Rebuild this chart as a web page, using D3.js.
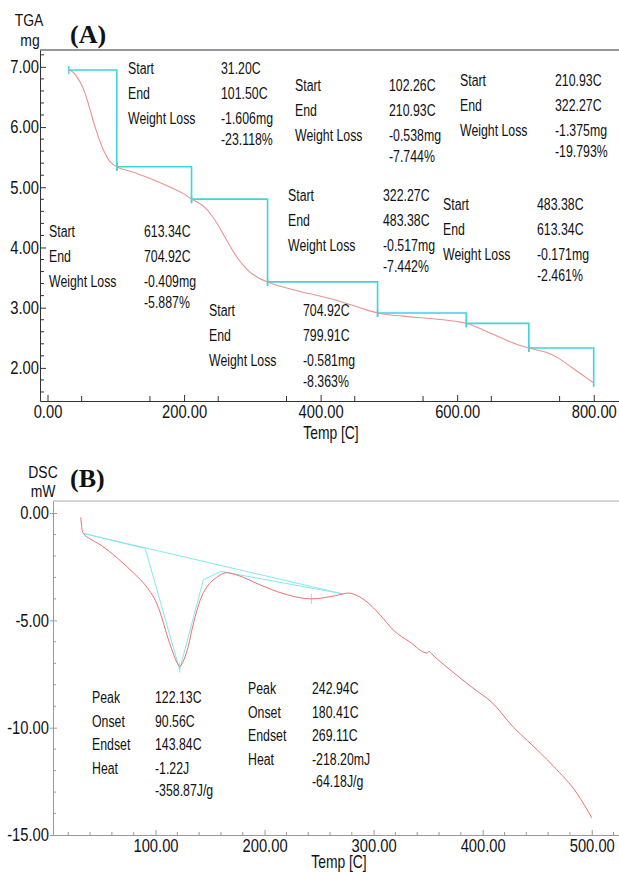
<!DOCTYPE html>
<html>
<head>
<meta charset="utf-8">
<script src="https://cdn.jsdelivr.net/npm/d3@7"></script>
<style>
  body { margin: 0; background: #fff; }
  text { fill: #111; }
</style>
</head>
<body>
<div id="chart"></div>
<script>
// ---- TGA data (panel A) ----
const tgaTemp = [31.2, 35, 40, 45, 50, 55, 60, 65, 70, 75, 80, 85, 90, 95, 101.5, 110, 120, 140, 160, 180, 200,
  210.93, 220, 230, 240, 250, 260, 270, 280, 290, 300, 310, 322.27, 340, 370, 400, 430, 460, 483.38,
  520, 560, 600, 613.34, 630, 650, 670, 690, 704.92, 720, 735, 750, 765, 780, 790, 799.91];
const tgaMass = [6.947, 6.93, 6.88, 6.80, 6.70, 6.56, 6.38, 6.18, 5.99, 5.82, 5.67, 5.55, 5.45, 5.39, 5.341, 5.30, 5.27, 5.19, 5.10, 5.00, 4.89,
  4.803, 4.75, 4.67, 4.54, 4.37, 4.17, 3.97, 3.80, 3.66, 3.56, 3.49, 3.428, 3.36, 3.27, 3.19, 3.10, 2.99, 2.911,
  2.86, 2.82, 2.77, 2.740, 2.67, 2.57, 2.47, 2.38, 2.331, 2.29, 2.24, 2.15, 2.03, 1.91, 1.83, 1.750];

const initialMass = 6.947;
const stepStart = [31.20, 102.26, 210.93, 322.27, 483.38, 613.34, 704.92];
const stepEnd = [101.50, 210.93, 322.27, 483.38, 613.34, 704.92, 799.91];
const stepLossMg = [-1.606, -0.538, -1.375, -0.517, -0.171, -0.409, -0.581];
const stepLossPct = [-23.118, -7.744, -19.793, -7.442, -2.461, -5.887, -8.363];

const tgaXTicks = [0, 200, 400, 600, 800];
const tgaYTicks = [2, 3, 4, 5, 6, 7];

// ---- DSC data (panel B) ----
const dscTemp = [31.5, 32.2, 33.8, 40, 50, 65, 80, 92, 101, 106, 110, 116, 120, 122.13, 125, 129, 135, 141, 147, 156, 165,
  177, 196, 217, 243, 265, 277, 285, 294, 306, 318, 333, 349, 351, 353, 370, 391, 409, 428, 441, 465, 487, 500];
const dscHeat = [-0.2, -0.6, -0.95, -1.2, -1.5, -2.1, -2.8, -3.45, -4.2, -4.9, -5.6, -6.5, -7.0, -7.15, -6.95, -6.4, -5.1, -4.05, -3.45, -3.0, -2.78,
  -2.93, -3.35, -3.75, -4.0, -3.85, -3.73, -3.85, -4.15, -4.75, -5.45, -6.0, -6.52, -6.45, -6.55, -7.3, -8.15, -8.85, -9.97, -10.6, -11.8, -13.1, -14.2];

const baseLongT = [33.8, 272], baseLongV = [-0.95, -3.77];
const peak1T = [33.8, 90.56, 122.13, 143.84, 160], peak1V = [-0.95, -1.65, -7.3, -3.12, -2.72];
const base2T = [160, 272], base2V = [-2.72, -3.77];
const peakMarkT = [122.13, 242.94], peakMarkV = [-7.2, -4.0];

const peakNames = ["Peak", "Onset", "Endset", "Heat", ""];
const peakVals = [
  ["122.13C", "90.56C", "143.84C", "-1.22J", "-358.87J/g"],
  ["242.94C", "180.41C", "269.11C", "-218.20mJ", "-64.18J/g"]
];
const dscXTicks = [100, 200, 300, 400, 500];
const dscYTicks = [0, -5, -10, -15];

// text blocks layout (label x, value x, first line y)
const tgaBlockPos = [[128, 221, 74], [295, 389, 91], [460, 555, 86], [288, 383, 201], [443, 537, 210], [49, 144, 237], [209, 303, 316]];
const dscBlockPos = [[92, 155, 703], [248, 312, 694]];

const W = 619, H = 872;
const SX = 0.82;  // narrow look of the original font (tick labels)
const SXT = 0.77; // annotation text
const SANS = '"Liberation Sans", Arial, sans-serif';
const SERIF = '"Liberation Serif", "Times New Roman", serif';
const redA = "#e99393", redB = "#ef7070", cyan = "#40d4dc", cyanB = "#84e8ef";
const fmt = d => d.toFixed(2);

const svg = d3.select("#chart").append("svg").attr("width", W).attr("height", H);

function txt(g, x, y, s, size, anchor, sx) {
  return g.append("text")
    .attr("transform", `translate(${x},${y}) scale(${sx || SXT},1)`)
    .style("font-family", SANS)
    .attr("font-size", size)
    .attr("text-anchor", anchor || "start")
    .text(s);
}

function styleAxis(g, color, size) {
  g.select(".domain").attr("stroke", color);
  g.selectAll(".tick line").attr("stroke", color);
  g.selectAll(".tick text").attr("font-size", size).attr("fill", "#111")
    .style("font-family", SANS)
    .attr("transform", `scale(${SX},1)`)
    .attr("x", function() { return +d3.select(this).attr("x") / SX; });
}

// ================= Panel A =================
const xA = d3.scaleLinear().domain([-11, 837]).range([40, 619]);
const yA = d3.scaleLinear().domain([1.45, 7.28]).range([401, 50]);
const gA = svg.append("g");

gA.append("line").attr("x1", 40).attr("x2", 619).attr("y1", yA(7.28)).attr("y2", yA(7.28)).attr("stroke", "#333");

const axXA = gA.append("g").attr("transform", `translate(0,${yA(1.45)})`)
  .call(d3.axisBottom(xA).tickValues(tgaXTicks).tickSizeInner(-6).tickSizeOuter(0).tickPadding(4).tickFormat(fmt));
styleAxis(axXA, "#333", 18);
gA.append("g").selectAll("line").data(d3.range(50, 800, 100)).join("line")
  .attr("x1", d => xA(d)).attr("x2", d => xA(d)).attr("y1", yA(1.45)).attr("y2", yA(1.45) - 5).attr("stroke", "#333");

const axYA = gA.append("g").attr("transform", `translate(${xA(-11)},0)`)
  .call(d3.axisLeft(yA).tickValues(tgaYTicks).tickSizeInner(-6).tickSizeOuter(0).tickPadding(1).tickFormat(fmt));
styleAxis(axYA, "#333", 18);
gA.append("g").selectAll("line").data(d3.range(16, 73, 2).filter(d => d % 10 !== 0).map(d => d / 10)).join("line")
  .attr("x1", xA(-11)).attr("x2", xA(-11) + 4).attr("y1", d => yA(d)).attr("y2", d => yA(d)).attr("stroke", "#333");

// step lines
let w = initialMass;
stepStart.forEach((s, i) => {
  const w2 = w + stepLossMg[i];
  const y0 = yA(w), y1 = yA(w2);
  gA.append("path")
    .attr("d", `M${xA(s)},${y0}H${xA(stepEnd[i])}V${y1 + 4}`)
    .attr("fill", "none").attr("stroke", cyan).attr("stroke-width", 1.6);
  gA.append("line").attr("x1", xA(s)).attr("x2", xA(s)).attr("y1", y0 - 4).attr("y2", y0 + 4)
    .attr("stroke", cyan).attr("stroke-width", 1.4);
  w = w2;
});

const lineA = d3.line().x((d, i) => xA(tgaTemp[i])).y(d => yA(d)).curve(d3.curveMonotoneX);
gA.append("path").attr("d", lineA(tgaMass)).attr("fill", "none").attr("stroke", redA).attr("stroke-width", 1.1);

// annotations
tgaBlockPos.forEach((p, i) => {
  const [lx, vx, y] = p;
  txt(gA, lx, y, "Start", 16);
  txt(gA, lx, y + 24.5, "End", 16);
  txt(gA, lx, y + 49.5, "Weight Loss", 16);
  txt(gA, vx, y, stepStart[i].toFixed(2) + "C", 16);
  txt(gA, vx, y + 24.5, stepEnd[i].toFixed(2) + "C", 16);
  txt(gA, vx, y + 49.5, stepLossMg[i].toFixed(3) + "mg", 16);
  txt(gA, vx, y + 70.5, stepLossPct[i].toFixed(3) + "%", 16);
});

txt(gA, 29, 26, "TGA", 17, "middle", SX);
txt(gA, 30, 46, "mg", 17, "middle", SX);
txt(gA, 331, 439, "Temp  [C]", 18, "middle");
gA.append("text").attr("x", 70).attr("y", 43).attr("font-size", 26).attr("font-weight", "bold")
  .style("font-family", SERIF).text("(A)");

// ================= Panel B =================
const xB = d3.scaleLinear().domain([6, 525]).range([53, 619]);
const yB = d3.scaleLinear().domain([-15, 0.56]).range([835, 501]);
const gB = svg.append("g");

gB.append("line").attr("x1", xB(6)).attr("x2", 619).attr("y1", yB(0.56)).attr("y2", yB(0.56)).attr("stroke", "#aaa");

const axXB = gB.append("g").attr("transform", `translate(0,${yB(-15)})`)
  .call(d3.axisBottom(xB).tickValues(dscXTicks).tickSizeInner(-5).tickSizeOuter(0).tickPadding(4).tickFormat(fmt));
styleAxis(axXB, "#999", 18);
gB.append("g").selectAll("line").data(d3.range(20, 525, 20).filter(d => d % 100 !== 0)).join("line")
  .attr("x1", d => xB(d)).attr("x2", d => xB(d)).attr("y1", yB(-15)).attr("y2", yB(-15) - 3).attr("stroke", "#999");

const axYB = gB.append("g").attr("transform", `translate(${xB(6)},0)`)
  .call(d3.axisLeft(yB).tickValues(dscYTicks).tickSizeInner(3).tickSizeOuter(0).tickPadding(1).tickFormat(fmt));
styleAxis(axYB, "#999", 18);
axYB.selectAll(".tick line").attr("x2", 4).attr("x1", -3);
gB.append("g").selectAll("line").data(d3.range(-14, 0).filter(d => d % 5 !== 0)).join("line")
  .attr("x1", xB(6)).attr("x2", xB(6) + 3).attr("y1", d => yB(d)).attr("y2", d => yB(d)).attr("stroke", "#999");

const cyLine = (T, V) => d3.line().x((d, i) => xB(T[i])).y(d => yB(d))(V);
gB.append("path").attr("d", cyLine(baseLongT, baseLongV)).attr("fill", "none").attr("stroke", cyanB).attr("stroke-width", 1);
gB.append("path").attr("d", cyLine(peak1T, peak1V)).attr("fill", "none").attr("stroke", cyanB).attr("stroke-width", 1);
gB.append("path").attr("d", cyLine(base2T, base2V)).attr("fill", "none").attr("stroke", cyanB).attr("stroke-width", 1);
peakMarkT.forEach((t, i) => {
  gB.append("line").attr("x1", xB(t)).attr("x2", xB(t)).attr("y1", yB(peakMarkV[i]) - 5).attr("y2", yB(peakMarkV[i]) + 5)
    .attr("stroke", cyanB).attr("stroke-width", 1);
});

const lineB = d3.line().x((d, i) => xB(dscTemp[i])).y(d => yB(d)).curve(d3.curveMonotoneX);
gB.append("path").attr("d", lineB(dscHeat)).attr("fill", "none").attr("stroke", redB).attr("stroke-width", 1);

const dscOffsets = [0, 23.5, 47, 70.5, 92.5];
dscBlockPos.forEach((p, i) => {
  const [lx, vx, y] = p;
  peakNames.forEach((n, k) => {
    if (n) txt(gB, lx, y + dscOffsets[k], n, 16);
    txt(gB, vx, y + dscOffsets[k], peakVals[i][k], 16);
  });
});

txt(gB, 43, 478, "DSC", 17, "middle", SX);
txt(gB, 43, 497, "mW", 17, "middle", SX);
txt(gB, 339, 868, "Temp  [C]", 18, "middle");
gB.append("text").attr("x", 70).attr("y", 487).attr("font-size", 26).attr("font-weight", "bold")
  .style("font-family", SERIF).text("(B)");
</script>
</body>
</html>
